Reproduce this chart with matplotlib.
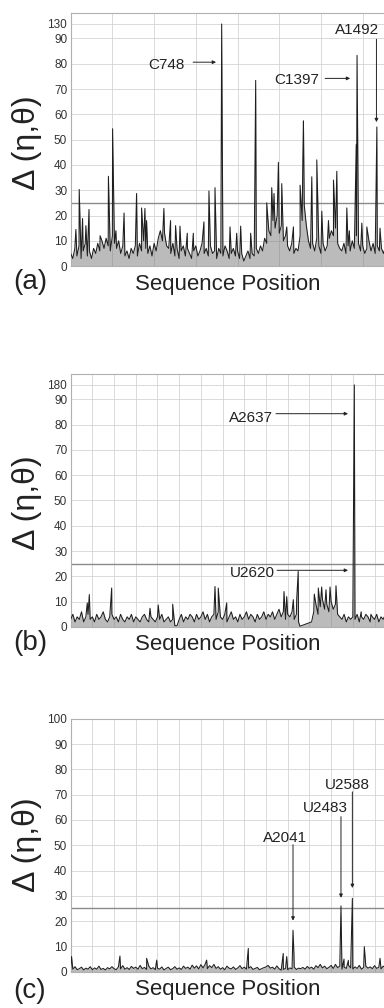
import numpy as np
import matplotlib.pyplot as plt

plt.rcParams['font.family'] = ['Liberation Sans', 'DejaVu Sans']

# ---- (a) 16S ----
a_start, a_step = 24, 10
a_base = [5, 3, 7, 4, 8, 3, 6, 9, 4, 6,
          3, 7, 5, 9, 6, 10, 7, 11, 8, 6,
          12, 9, 7, 10, 5, 8, 4, 6, 3, 7,
          5, 8, 4, 9, 6, 10, 7, 5, 8, 4,
          9, 6, 11, 14, 10, 13, 8, 7, 5, 9,
          4, 7, 3, 6, 8, 4, 7, 5, 3, 6,
          8, 4, 6, 9, 5, 7, 4, 8, 5, 6,
          3, 7, 5, 4, 8, 6, 3, 5, 7, 4,
          6, 3, 5, 2, 4, 6, 3, 5, 4, 7,
          5, 8, 6, 11, 9, 14, 12, 18, 15, 20,
          13, 16, 10, 12, 8, 6, 9, 5, 7, 6,
          12, 18, 24, 16, 10, 7, 9, 6, 11, 8,
          5, 9, 6, 8, 11, 14, 12, 15, 9, 7,
          6, 9, 5, 8, 6, 10, 7, 12, 9, 6,
          8, 5, 7, 10, 6, 9, 5, 8, 6, 7,
          5, 8, 4, 6]
a_peak_pos = [49, 65, 81, 97, 112, 165, 205, 225, 241, 280, 340, 364, 380, 388,
              471, 503, 527, 548, 583, 612, 663, 687, 716, 748, 788, 820, 839,
              887, 911, 964, 988, 999, 1020, 1036, 1060, 1092, 1124, 1137, 1140,
              1180, 1204, 1228, 1260, 1284, 1300, 1348, 1360, 1393, 1397, 1420,
              1444, 1492, 1507]
a_peak_val = [14.5, 30.3, 18.8, 16, 22.4, 12, 35.5, 54.3, 14, 21, 28.7, 23, 22.8, 18,
              22.8, 18, 16, 15.8, 13, 13, 17.5, 29.7, 31, 130, 15.5, 13, 15.8,
              13, 73.4, 25, 31, 28.7, 41, 32.6, 15.5, 15.5, 32, 42, 57.4,
              35.3, 42, 21.7, 18, 34, 37.5, 23, 14, 48, 83.3, 17,
              15.5, 55, 15]

# ---- (b) 23S ----
b_start, b_step = 23, 20
b_base = [3, 5, 2, 4, 3, 6, 2, 4, 5, 3,
          4, 2, 5, 3, 4, 6, 3, 2, 4, 5,
          3, 4, 2, 5, 3, 2, 4, 3, 5, 2,
          4, 3, 2, 4, 5, 3, 2, 4, 3, 2,
          4, 3, 5, 2, 3, 4, 2, 3, 0.5, 0.5,
          3, 5, 2, 4, 3, 5, 4, 2, 5, 3,
          4, 6, 3, 5, 2, 4, 5, 3, 6, 4,
          3, 5, 2, 4, 6, 3, 4, 2, 5, 3,
          4, 6, 3, 5, 4, 2, 5, 3, 4, 6,
          3, 5, 4, 6, 3, 5, 7, 4, 6, 3,
          5, 4, 6, 3, 5, 2, None, None, None, None,
          None, 2, 6, 9, 5, 8, 11, 7, 9, 6,
          10, 7, 9, 5, 4, 3, 5, 2, 4, 3,
          4, 3, 5, 2, 4, 3, 5, 4, 2, 4,
          3, 5, 2, 4, 3, 5, 2, 4]
b_peak_pos = [176, 195, 401, 754, 830, 963, 1353, 1383, 1461, 1989, 2014, 2075,
              2106, 2120, 2136, 2268, 2305, 2336, 2376, 2413, 2468, 2637, 2700, 2790]
b_peak_val = [9.5, 12.8, 15.4, 7.4, 8.7, 9, 16, 15.4, 9.5, 14, 12, 10.8,
              11, 22, 0.3, 13, 15.4, 15.8, 14.7, 15.8, 16.3, 180, 6, 5]

# ---- (c) 23S ----
c_start, c_step = -8, 20
c_base = [1.5, 1, 2, 0.8, 1.2, 1.8, 0.7, 1.4, 1, 2,
          0.8, 1.5, 1, 2.2, 0.9, 1.3, 0.7, 1.6, 1.1, 2,
          1.2, 0.8, 1.9, 1.1, 2.4, 1, 1.6, 0.9, 2.1, 1.3,
          1.8, 1, 2.5, 1.2, 1.7, 0.9, 2.2, 1.1, 1.6, 0.8,
          1.4, 1, 1.9, 0.7, 1.3, 1.8, 0.8, 1.2, 2, 1,
          1.5, 0.9, 2.2, 1.3, 1.8, 1, 2.6, 1.4, 2.3, 1.1,
          2.8, 1.5, 3, 1.2, 2.4, 1.6, 2.9, 1.3, 2, 1,
          1.6, 0.8, 2.2, 1.4, 1.1, 1.9, 0.9, 1.5, 2.4, 1.2,
          1.8, 1, 1.4, 2, 0.9, 1.3, 1.7, 0.8, 1.2, 1.6,
          1.9, 2.5, 1.4, 1.8, 1, 2.3, 1.2, 0.6, 0.9, 1.3,
          0.8, 1.5, 1.1, 1.8, 0.9, 1.4, 1.2, 1.7, 1, 2.1,
          1.3, 1.8, 1, 2.4, 1.6, 2.9, 1.5, 2.2, 1.2, 1.7,
          2.5, 1.3, 2.9, 1.6, 2.2, 1, 1.8, 1.3, 2.6, 1.5,
          1.1, 1.9, 1.3, 2.5, 1, 1.7, 2.2, 1.4, 1.9, 1.2,
          2.4, 1.3, 1.8, 1.1, 2.2, 1.6, 1.3, 2]
c_peak_pos = [0, 446, 692, 785, 1245, 1629, 1951, 1983, 2041, 2050, 2483, 2511,
              2551, 2588, 2698, 2843]
c_peak_val = [6, 6.2, 5.3, 4.6, 4.6, 9.2, 7.2, 6, 16.4, 6.5, 26, 5,
              4.5, 29, 9.9, 5.3]

# annotations: (label, text x, text y frac, arrow start, arrow end)
a_notes = [('C748', 484, 0.794, (611, 0.806), (721, 0.806)),
           ('C1397', 1108, 0.735, (1244, 0.742), (1364, 0.742)),
           ('A1492', 1396, 0.933, (1490, 0.897), (1490, 0.569))]
b_notes = [('A2637', 1685, 0.827, (1915, 0.843), (2579, 0.843)),
           ('U2620', 1694, 0.213, (1925, 0.224), (2579, 0.224))]
c_notes = [('A2041', 1967, 0.529, (2041, 0.502), (2041, 0.202)),
           ('U2483', 2340, 0.648, (2483, 0.613), (2483, 0.292)),
           ('U2588', 2543, 0.739, (2588, 0.711), (2588, 0.331))]


def series(start, step, base, ppos, pval):
    vals = np.array([np.nan if v is None else v for v in base], dtype=float)
    pos = start + step * np.arange(len(vals))
    keep = ~np.isnan(vals)
    x = np.concatenate([pos[keep], np.array(ppos, float)])
    y = np.concatenate([vals[keep], np.array(pval, float)])
    o = np.argsort(x, kind='stable')
    return x[o], y[o]


def make_scale(top):
    k = 5.7 / (top - 90)

    def fwd(y):
        y = np.asarray(y, float)
        return np.where(y <= 90, y, 90 + (y - 90) * k)

    def inv(t):
        t = np.asarray(t, float)
        return np.where(t <= 90, t, 90 + (t - 90) / k)
    return fwd, inv, 90 + 10 / k


fig = plt.figure(figsize=(3.84, 10.08), dpi=100)

panels = [
    dict(bottom=0.736, data=(a_start, a_step, a_base, a_peak_pos, a_peak_val),
         xlim=(24, 1552), top=130, notes=a_notes, tag='(a)',
         tag_y=0.720, lab_y=0.7123, ylab_y=0.858),
    dict(bottom=0.378, data=(b_start, b_step, b_base, b_peak_pos, b_peak_val),
         xlim=(23, 2960), top=180, notes=b_notes, tag='(b)',
         tag_y=0.362, lab_y=0.355, ylab_y=0.501),
    dict(bottom=0.036, data=(c_start, c_step, c_base, c_peak_pos, c_peak_val),
         xlim=(-8, 2929), top=100, notes=c_notes, tag='(c)',
         tag_y=0.017, lab_y=0.0129, ylab_y=0.162),
]

for p in panels:
    ax = fig.add_axes([0.184, p['bottom'], 0.83, 0.251])
    x, y = series(*p['data'])
    ax.fill_between(x, 0, y, color='#6a6a6a', alpha=0.45, lw=0, zorder=2)
    ax.plot(x, y, color='#1e1e1e', lw=0.75, zorder=3)

    if p['top'] > 100:
        fwd, inv, ytop = make_scale(p['top'])
        ax.set_yscale('function', functions=(fwd, inv))
        ax.set_ylim(0, ytop)
        ax.set_yticks(list(range(0, 100, 10)) + [p['top']])
    else:
        ax.set_ylim(0, 100)
        ax.set_yticks(range(0, 101, 10))

    ax.set_xlim(*p['xlim'])
    ax.set_xticks(np.arange(p['xlim'][0], p['xlim'][1], 200))
    ax.tick_params(axis='x', length=0, labelbottom=False)
    ax.tick_params(axis='y', length=0, pad=2.5, labelsize=8.5, labelcolor='#333333')
    ax.grid(True, color='#d4d4d4', lw=0.6)
    ax.set_axisbelow(True)
    ax.axhline(25, color='#8a8a8a', lw=1.0, zorder=1.5)
    for s in ax.spines.values():
        s.set_color('#b0b0b0')
        s.set_linewidth(0.8)

    tr = ax.get_xaxis_transform()
    for lab, tx, ty, start, end in p['notes']:
        ax.text(tx, ty, lab, transform=tr, ha='center', va='center',
                fontsize=11, color='#222222')
        ax.annotate('', xy=end, xytext=start, xycoords=tr, textcoords=tr,
                    arrowprops=dict(arrowstyle='-|>', color='#222222', lw=0.7,
                                    mutation_scale=5, shrinkA=0, shrinkB=0))

    fig.text(0.594, p['lab_y'], 'Sequence Position', ha='center', va='baseline',
             fontsize=16, color='#222222')
    fig.text(0.078, p['tag_y'], p['tag'], ha='center', va='center',
             fontsize=20, color='#222222')
    fig.text(0.07, p['ylab_y'], 'Δ (η,θ)', rotation=90, ha='center', va='center',
             fontsize=23, color='#222222')

fig.savefig('out.png', dpi=100)
